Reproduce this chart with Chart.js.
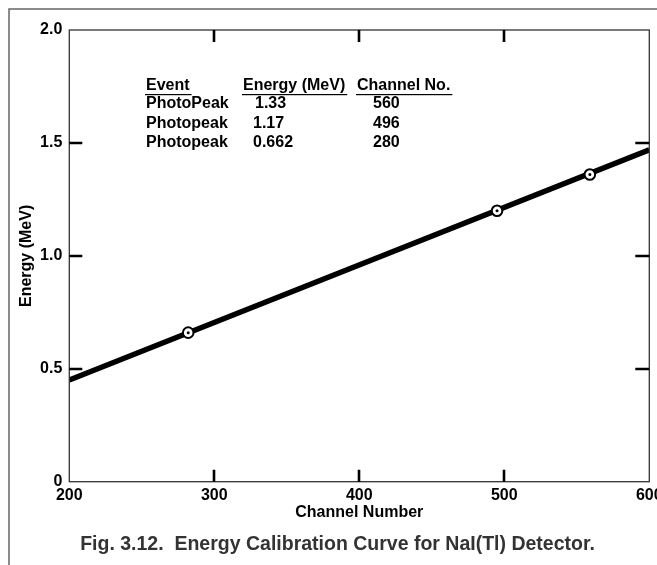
<!DOCTYPE html>
<html><head><meta charset="utf-8">
<script src="https://cdn.jsdelivr.net/npm/chart.js@4.4.1/dist/chart.umd.min.js"></script>
<style>html,body{margin:0;padding:0;background:#fff;overflow:hidden}canvas{display:block}</style>
</head><body>
<canvas id="c" width="657" height="565"></canvas>
<script>
const channels = [282, 495, 559];
const energies = [0.66, 1.20, 1.36];
const fitChannels = [200, 600];
const fitEnergies = [0.45, 1.47];
const xTicks = [200, 300, 400, 500, 600];
const yTicks = [0, 0.5, 1.0, 1.5, 2.0];
const tableHeaders = ['Event', 'Energy (MeV)', 'Channel No.'];
const tableEvents = ['PhotoPeak', 'Photopeak', 'Photopeak'];
const tableEnergies = ['1.33', '1.17', '0.662'];
const tableChannels = ['560', '496', '280'];
const xTitle = 'Channel Number';
const yTitle = 'Energy (MeV)';
const caption = 'Fig. 3.12.  Energy Calibration Curve for NaI(Tl) Detector.';

const FONT = '"Liberation Sans", Arial, Helvetica, sans-serif';

const framePlugin = {
  id: 'frame',
  beforeDraw(chart) {
    const ctx = chart.ctx;
    ctx.save();
    ctx.fillStyle = '#fff';
    ctx.fillRect(0, 0, chart.width, chart.height);
    ctx.strokeStyle = '#666';
    ctx.lineWidth = 1.5;
    ctx.beginPath();
    ctx.moveTo(9, chart.height);
    ctx.lineTo(9, 9);
    ctx.lineTo(chart.width, 9);
    ctx.stroke();
    ctx.restore();
  },
  afterDraw(chart) {
    const {ctx, chartArea: a, scales: {x, y}} = chart;
    ctx.save();
    ctx.strokeStyle = '#333';
    ctx.lineWidth = 1.3;
    ctx.strokeRect(a.left, a.top, a.right - a.left, a.bottom - a.top);
    ctx.strokeStyle = '#000';
    ctx.lineWidth = 2.6;
    ctx.beginPath();
    xTicks.slice(1, -1).forEach(v => {
      const px = Math.round(x.getPixelForValue(v));
      ctx.moveTo(px, a.bottom); ctx.lineTo(px, a.bottom - 12);
      ctx.moveTo(px, a.top); ctx.lineTo(px, a.top + 12);
    });
    yTicks.slice(1, -1).forEach(v => {
      const py = Math.round(y.getPixelForValue(v));
      ctx.moveTo(a.left, py); ctx.lineTo(a.left + 13, py);
      ctx.moveTo(a.right, py); ctx.lineTo(a.right - 14, py);
    });
    ctx.stroke();

    // table
    ctx.fillStyle = '#000';
    ctx.font = 'bold 16px ' + FONT;
    ctx.textAlign = 'left';
    ctx.textBaseline = 'middle';
    const colX = [146, 243, 357];
    tableHeaders.forEach((h, i) => {
      ctx.fillText(h, colX[i], 86);
      const w = ctx.measureText(h).width;
      ctx.fillRect(colX[i] - 1, 94, w + 3, 1.2);
    });
    const rowY = [104, 124, 143];
    tableEvents.forEach((t, i) => {
      ctx.fillText(t, 146, rowY[i]);
      ctx.fillText(tableEnergies[i], i === 0 ? 255 : 253, rowY[i]);
      ctx.fillText(tableChannels[i], 373, rowY[i]);
    });

    // caption
    ctx.font = 'bold 19.5px "Liberation Sans Narrow", "Liberation Sans", Arial, sans-serif';
    ctx.fillStyle = '#333';
    ctx.textAlign = 'center';
    ctx.fillText(caption, 337.5, 545);
    ctx.restore();
  }
};

new Chart(document.getElementById('c'), {
  type: 'scatter',
  data: {
    datasets: [
      {
        data: fitChannels.map((c, i) => ({x: c, y: fitEnergies[i]})),
        showLine: true,
        borderColor: '#000',
        borderWidth: 5.5,
        pointRadius: 0,
        order: 3
      },
      {
        data: channels.map((c, i) => ({x: c, y: energies[i]})),
        pointRadius: 5.3,
        pointBackgroundColor: '#fff',
        pointBorderColor: '#000',
        pointBorderWidth: 2,
        order: 2
      },
      {
        data: channels.map((c, i) => ({x: c, y: energies[i]})),
        pointRadius: 1.5,
        pointBackgroundColor: '#000',
        pointBorderColor: '#000',
        pointBorderWidth: 0,
        order: 1
      }
    ]
  },
  options: {
    responsive: false,
    animation: false,
    events: [],
    layout: {padding: {left: 0, right: 7.7, top: 30, bottom: 0}},
    plugins: {legend: {display: false}, tooltip: {enabled: false}, title: {display: false}},
    scales: {
      x: {
        type: 'linear', min: 200, max: 600,
        afterBuildTicks: s => { s.ticks = xTicks.map(v => ({value: v})); },
        afterFit: s => { s.height = 83.3; s.paddingLeft = 0; s.paddingRight = 0; },
        grid: {display: false, drawTicks: false},
        border: {display: false},
        ticks: {
          color: '#000', padding: 4, maxRotation: 0, autoSkip: false,
          font: {family: FONT, size: 16, weight: 'bold'},
          callback: v => String(v)
        },
        title: {
          display: true, text: xTitle, color: '#000',
          font: {family: FONT, size: 16, weight: 'bold'},
          padding: {top: 0, bottom: 42.4}
        }
      },
      y: {
        type: 'linear', min: 0, max: 2,
        afterBuildTicks: s => { s.ticks = yTicks.map(v => ({value: v})); },
        afterFit: s => { s.width = 69.3; s.paddingTop = 0; s.paddingBottom = 0; },
        grid: {display: false, drawTicks: false},
        border: {display: false},
        ticks: {
          color: '#000', padding: 7,
          font: {family: FONT, size: 16, weight: 'bold'},
          callback: v => v === 0 ? '0' : v.toFixed(1)
        },
        title: {
          display: true, text: yTitle, color: '#000',
          font: {family: FONT, size: 16, weight: 'bold'},
          padding: {top: 17.4, bottom: 0}
        }
      }
    }
  },
  plugins: [framePlugin]
});
</script>
</body></html>
